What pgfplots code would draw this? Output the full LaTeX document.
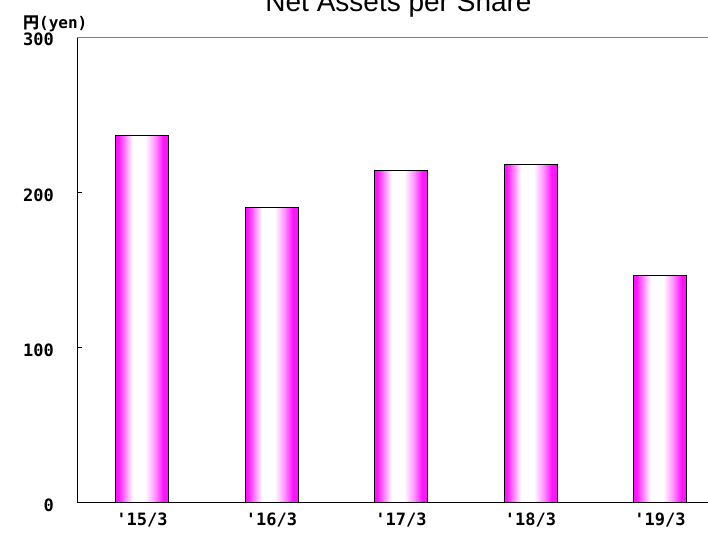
\documentclass[border=0pt]{standalone}
\usepackage{fontspec}
\setmainfont{Liberation Sans}
\newfontfamily\jp{Noto Sans CJK JP}
\newfontfamily\mono{DejaVu Sans Mono}
\usepackage{pgfplots}
\pgfplotsset{compat=1.18}
\definecolor{mag}{RGB}{255,20,255}
\pgfdeclarehorizontalshading{barshade}{100bp}{color(0bp)=(mag); color(25bp)=(mag); color(27.5bp)=(mag); color(35bp)=(mag!45); color(41bp)=(white); color(53bp)=(white); color(62bp)=(mag!45); color(70bp)=(mag); color(75bp)=(mag); color(100bp)=(mag)}
\begin{document}
\begin{tikzpicture}[x=1pt,y=1pt]
\useasboundingbox (0,0) rectangle (708,534);
\clip (0,0) rectangle (708,534);
\fill[white] (0,0) rectangle (708,534);
\node[anchor=base,font=\fontsize{28}{28}\selectfont] at (398.5,522.5) {Net Assets per Share};
\begin{axis}[
  at={(77.3pt,31.3pt)}, anchor=south west,
  scale only axis, width=647.5pt, height=465.4pt,
  xmin=-0.5, xmax=4.5, ymin=0, ymax=300,
  axis x line*=bottom, axis y line*=left,
  axis line style={black, line width=1.5pt},
  ytick={0,100,200,300},
  xtick={0,1,2,3,4},
  xticklabels={'15/3,'16/3,'17/3,'18/3,'19/3},
  x tick style={draw=none},
  extra x ticks={0.5,1.5,2.5,3.5},
  extra x tick labels={},
  extra x tick style={tick style={draw=black, line width=1pt}, major tick length=6pt, tick align=inside},
  y tick style={black, line width=1pt},
  major tick length=5pt, tick align=inside,
  ticklabel style={font=\mono\bfseries\fontsize{17}{17}\selectfont},
  /pgf/number format/assume math mode=true,
  yticklabel style={xshift=-20pt, yshift=-2.5pt},
  xticklabel style={yshift=-2pt},
  clip=false,
  ybar, bar width=53pt,
]
\addplot[draw=black, line width=1pt, shading=barshade, bar shift=0pt] coordinates {(0,236.4)};
\addplot[draw=black, line width=1pt, shading=barshade, bar shift=0pt] coordinates {(1,190.4)};
\addplot[draw=black, line width=1pt, shading=barshade, bar shift=0pt] coordinates {(2,214.0)};
\addplot[draw=black, line width=1pt, shading=barshade, bar shift=0pt] coordinates {(3,218.1)};
\addplot[draw=black, line width=1pt, shading=barshade, bar shift=0pt] coordinates {(4,146.3)};
\draw[gray, line width=1.5pt] (rel axis cs:0,1) -- (rel axis cs:1,1) -- (rel axis cs:1,0);
\node[font=\bfseries\fontsize{16}{16}\selectfont] at ([xshift=-22pt,yshift=13.5pt]rel axis cs:0,1) {{\jp 円}{\mono(yen)}};
\end{axis}
\end{tikzpicture}
\end{document}
